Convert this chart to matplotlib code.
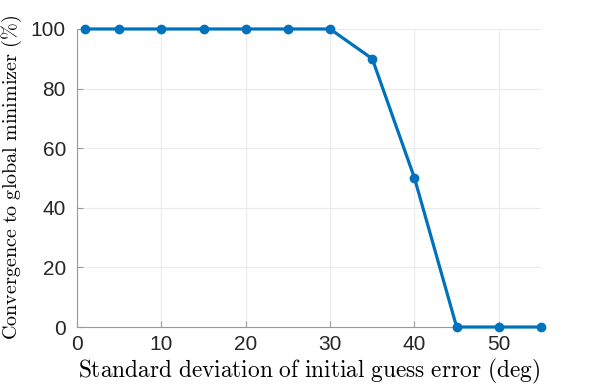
import matplotlib
matplotlib.use('Agg')
import matplotlib.pyplot as plt

# Data
std_dev = [1, 5, 10, 15, 20, 25, 30, 35, 40, 45, 50, 55]
convergence = [100, 100, 100, 100, 100, 100, 100, 90, 50, 0, 0, 0]

plt.rcParams['mathtext.fontset'] = 'cm'
plt.rcParams['font.family'] = ['Liberation Sans', 'DejaVu Sans']

fig = plt.figure(figsize=(5.98, 3.88), dpi=100)
ax = fig.add_axes([0.1288, 0.1572, 0.7759, 0.7681])

ax.plot(std_dev, convergence, color='#0072BD', linewidth=2.3, marker='o',
        markersize=6, clip_on=False, zorder=3)

ax.set_xlim(0, 55)
ax.set_ylim(0, 100)
ax.set_xticks([0, 10, 20, 30, 40, 50])
ax.set_yticks([0, 20, 40, 60, 80, 100])
ax.grid(True, color='#ebebeb', linewidth=0.8)
ax.set_axisbelow(True)

for side in ['top', 'right']:
    ax.spines[side].set_visible(False)
for side in ['left', 'bottom']:
    ax.spines[side].set_color('#999999')
    ax.spines[side].set_linewidth(0.8)

ax.tick_params(direction='in', length=4, color='#999999', labelsize=15,
               labelcolor='#262626')
ax.tick_params(axis='x', pad=6)
ax.tick_params(axis='y', pad=8)

ax.set_xlabel(r'$\mathrm{Standard\ deviation\ of\ initial\ guess\ error\ (deg)}$',
              fontsize=16.8, labelpad=2)
ax.set_ylabel(r'$\mathrm{Convergence\ to\ global\ minimizer\ (\%)}$',
              fontsize=14.5, labelpad=5)

fig.savefig('out.png', dpi=100)
